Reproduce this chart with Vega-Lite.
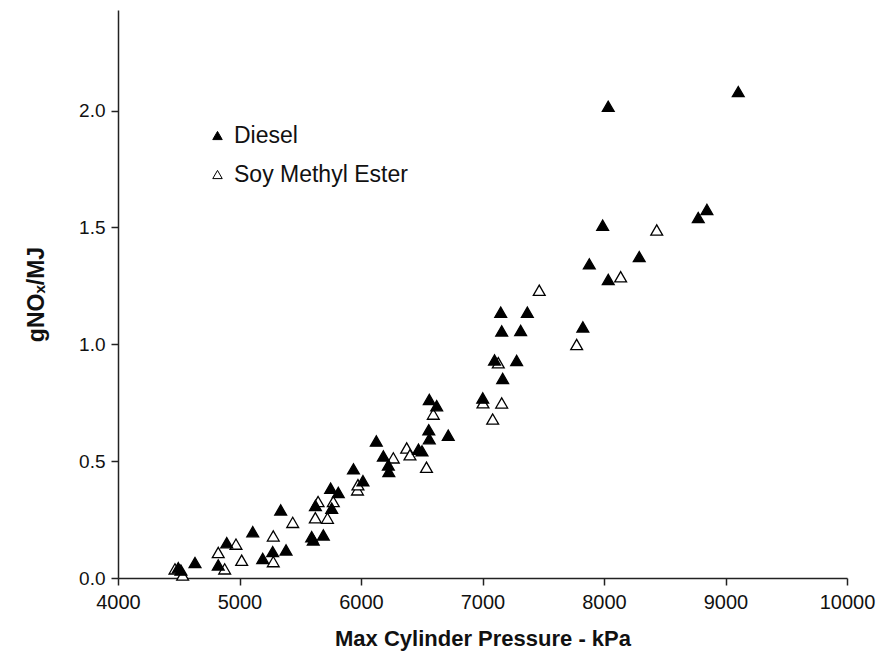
{
  "$schema": "https://vega.github.io/schema/vega-lite/v6.json",
  "width": 729,
  "height": 568,
  "autosize": {"type": "none"},
  "padding": {"left": 118, "top": 10, "right": 36, "bottom": 82},
  "background": "white",
  "config": {
    "view": {"stroke": null},
    "font": "Liberation Sans"
  },
  "data": {
    "values": [
      {"p": 4469, "nox": 0.039, "fuel": "Soy Methyl Ester"},
      {"p": 4532, "nox": 0.013, "fuel": "Soy Methyl Ester"},
      {"p": 4878, "nox": 0.039, "fuel": "Soy Methyl Ester"},
      {"p": 4825, "nox": 0.109, "fuel": "Soy Methyl Ester"},
      {"p": 4971, "nox": 0.145, "fuel": "Soy Methyl Ester"},
      {"p": 5018, "nox": 0.076, "fuel": "Soy Methyl Ester"},
      {"p": 5278, "nox": 0.180, "fuel": "Soy Methyl Ester"},
      {"p": 5278, "nox": 0.070, "fuel": "Soy Methyl Ester"},
      {"p": 5438, "nox": 0.238, "fuel": "Soy Methyl Ester"},
      {"p": 5624, "nox": 0.258, "fuel": "Soy Methyl Ester"},
      {"p": 5647, "nox": 0.327, "fuel": "Soy Methyl Ester"},
      {"p": 5724, "nox": 0.256, "fuel": "Soy Methyl Ester"},
      {"p": 5772, "nox": 0.327, "fuel": "Soy Methyl Ester"},
      {"p": 5971, "nox": 0.377, "fuel": "Soy Methyl Ester"},
      {"p": 5975, "nox": 0.399, "fuel": "Soy Methyl Ester"},
      {"p": 6266, "nox": 0.514, "fuel": "Soy Methyl Ester"},
      {"p": 6376, "nox": 0.556, "fuel": "Soy Methyl Ester"},
      {"p": 6403, "nox": 0.527, "fuel": "Soy Methyl Ester"},
      {"p": 6539, "nox": 0.474, "fuel": "Soy Methyl Ester"},
      {"p": 6595, "nox": 0.701, "fuel": "Soy Methyl Ester"},
      {"p": 7004, "nox": 0.750, "fuel": "Soy Methyl Ester"},
      {"p": 7158, "nox": 0.749, "fuel": "Soy Methyl Ester"},
      {"p": 7084, "nox": 0.680, "fuel": "Soy Methyl Ester"},
      {"p": 7130, "nox": 0.921, "fuel": "Soy Methyl Ester"},
      {"p": 7467, "nox": 1.231, "fuel": "Soy Methyl Ester"},
      {"p": 7775, "nox": 0.999, "fuel": "Soy Methyl Ester"},
      {"p": 8137, "nox": 1.289, "fuel": "Soy Methyl Ester"},
      {"p": 8434, "nox": 1.489, "fuel": "Soy Methyl Ester"},
      {"p": 4496, "nox": 0.044, "fuel": "Diesel"},
      {"p": 4518, "nox": 0.034, "fuel": "Diesel"},
      {"p": 4634, "nox": 0.066, "fuel": "Diesel"},
      {"p": 4825, "nox": 0.056, "fuel": "Diesel"},
      {"p": 4895, "nox": 0.151, "fuel": "Diesel"},
      {"p": 5109, "nox": 0.198, "fuel": "Diesel"},
      {"p": 5191, "nox": 0.084, "fuel": "Diesel"},
      {"p": 5273, "nox": 0.113, "fuel": "Diesel"},
      {"p": 5383, "nox": 0.120, "fuel": "Diesel"},
      {"p": 5339, "nox": 0.291, "fuel": "Diesel"},
      {"p": 5594, "nox": 0.177, "fuel": "Diesel"},
      {"p": 5607, "nox": 0.163, "fuel": "Diesel"},
      {"p": 5690, "nox": 0.184, "fuel": "Diesel"},
      {"p": 5625, "nox": 0.310, "fuel": "Diesel"},
      {"p": 5759, "nox": 0.299, "fuel": "Diesel"},
      {"p": 5750, "nox": 0.384, "fuel": "Diesel"},
      {"p": 5813, "nox": 0.366, "fuel": "Diesel"},
      {"p": 5938, "nox": 0.467, "fuel": "Diesel"},
      {"p": 6016, "nox": 0.416, "fuel": "Diesel"},
      {"p": 6126, "nox": 0.586, "fuel": "Diesel"},
      {"p": 6184, "nox": 0.522, "fuel": "Diesel"},
      {"p": 6225, "nox": 0.484, "fuel": "Diesel"},
      {"p": 6229, "nox": 0.456, "fuel": "Diesel"},
      {"p": 6473, "nox": 0.551, "fuel": "Diesel"},
      {"p": 6502, "nox": 0.544, "fuel": "Diesel"},
      {"p": 6558, "nox": 0.634, "fuel": "Diesel"},
      {"p": 6562, "nox": 0.596, "fuel": "Diesel"},
      {"p": 6718, "nox": 0.611, "fuel": "Diesel"},
      {"p": 6562, "nox": 0.764, "fuel": "Diesel"},
      {"p": 6623, "nox": 0.737, "fuel": "Diesel"},
      {"p": 7002, "nox": 0.770, "fuel": "Diesel"},
      {"p": 7099, "nox": 0.933, "fuel": "Diesel"},
      {"p": 7281, "nox": 0.931, "fuel": "Diesel"},
      {"p": 7166, "nox": 0.854, "fuel": "Diesel"},
      {"p": 7150, "nox": 1.137, "fuel": "Diesel"},
      {"p": 7369, "nox": 1.137, "fuel": "Diesel"},
      {"p": 7158, "nox": 1.057, "fuel": "Diesel"},
      {"p": 7314, "nox": 1.059, "fuel": "Diesel"},
      {"p": 7826, "nox": 1.074, "fuel": "Diesel"},
      {"p": 7879, "nox": 1.344, "fuel": "Diesel"},
      {"p": 7989, "nox": 1.509, "fuel": "Diesel"},
      {"p": 8035, "nox": 1.277, "fuel": "Diesel"},
      {"p": 8290, "nox": 1.375, "fuel": "Diesel"},
      {"p": 8776, "nox": 1.542, "fuel": "Diesel"},
      {"p": 8847, "nox": 1.577, "fuel": "Diesel"},
      {"p": 8035, "nox": 2.018, "fuel": "Diesel"},
      {"p": 9105, "nox": 2.081, "fuel": "Diesel"}
    ]
  },
  "mark": {
    "type": "point",
    "shape": "triangle-up",
    "filled": true,
    "stroke": "black",
    "strokeWidth": 1.3,
    "opacity": 1,
    "size": 140
  },
  "encoding": {
    "x": {
      "field": "p",
      "type": "quantitative",
      "scale": {"domain": [4000, 10000], "nice": false, "zero": false},
      "axis": {
        "title": "Max Cylinder Pressure - kPa",
        "values": [4000, 5000, 6000, 7000, 8000, 9000, 10000],
        "format": "d",
        "grid": false,
        "labelFlush": false,
        "domainColor": "#222",
        "domainWidth": 1.5,
        "tickColor": "#222",
        "tickWidth": 1.5,
        "tickSize": 7,
        "labelFont": "Liberation Sans",
        "labelFontSize": 20,
        "labelColor": "#111",
        "labelPadding": 7,
        "titleFont": "Liberation Sans",
        "titleFontSize": 22,
        "titleFontWeight": "bold",
        "titleColor": "#111",
        "titlePadding": 16
      }
    },
    "y": {
      "field": "nox",
      "type": "quantitative",
      "scale": {"domain": [0, 2.43], "nice": false},
      "axis": {
        "title": "gNOₓ/MJ",
        "values": [0, 0.5, 1, 1.5, 2],
        "format": ".1f",
        "grid": false,
        "labelFlush": false,
        "domainColor": "#222",
        "domainWidth": 1.5,
        "tickColor": "#222",
        "tickWidth": 1.5,
        "tickSize": 7,
        "labelFont": "Liberation Sans",
        "labelFontSize": 19,
        "labelColor": "#111",
        "labelPadding": 6,
        "titleFont": "Liberation Sans",
        "titleFontSize": 23,
        "titleFontWeight": "bold",
        "titleColor": "#111",
        "titlePadding": 30
      }
    },
    "fill": {
      "field": "fuel",
      "type": "nominal",
      "scale": {"domain": ["Diesel", "Soy Methyl Ester"], "range": ["black", "white"]},
      "legend": {
        "title": null,
        "orient": "none",
        "legendX": 88,
        "legendY": 114,
        "symbolType": "triangle-up",
        "symbolStrokeColor": "black",
        "symbolStrokeWidth": 1,
        "symbolSize": 90,
        "symbolOpacity": 1,
        "labelFont": "Liberation Sans",
        "labelFontSize": 23,
        "labelColor": "#111",
        "labelOffset": 5,
        "labelLimit": 400,
        "rowPadding": 15
      }
    }
  }
}
